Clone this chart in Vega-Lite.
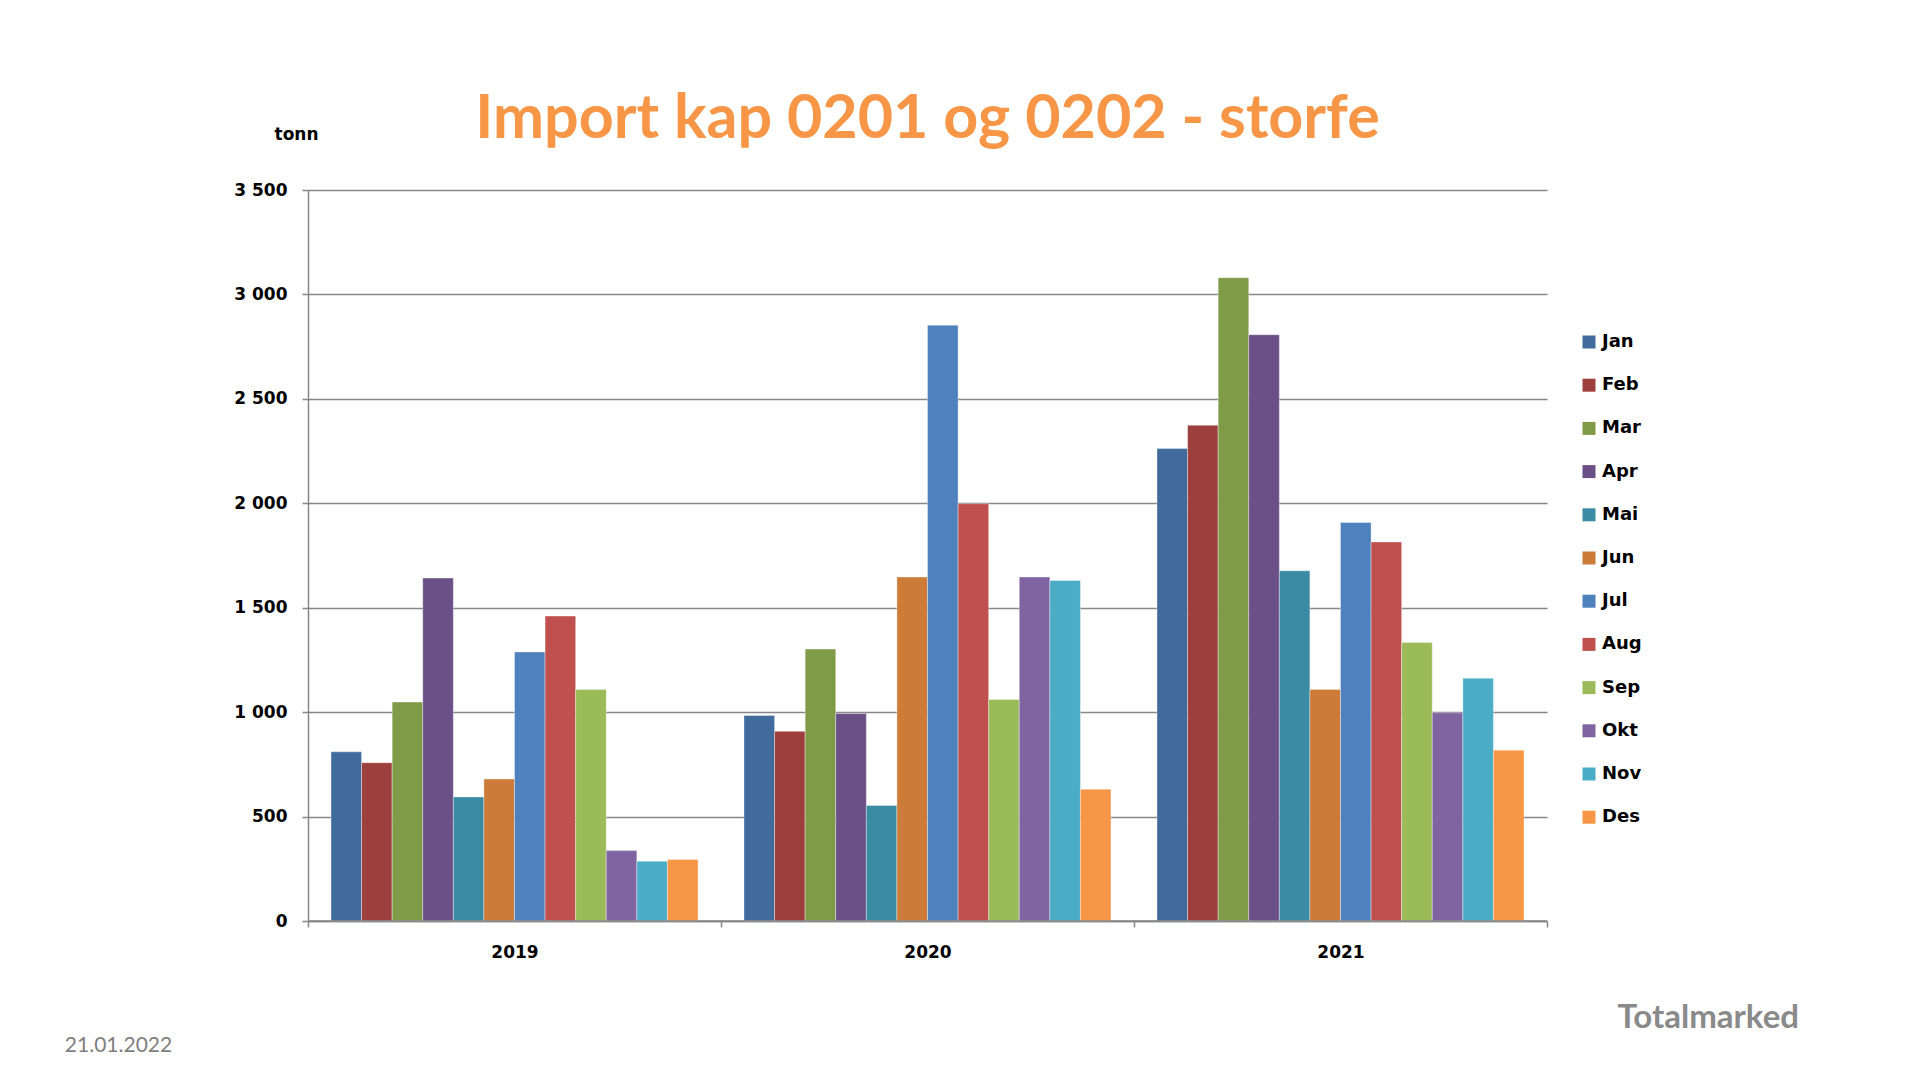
{
  "$schema": "https://vega.github.io/schema/vega-lite/v6.json",
  "width": 1239,
  "height": 731,
  "autosize": {"type": "none"},
  "padding": {"left": 308, "top": 190, "right": 363, "bottom": 162},
  "background": "white",
  "view": {"stroke": null},
  "title": {
    "text": "Import kap 0201 og 0202 - storfe",
    "color": "#F79646",
    "font": "Lato",
    "fontSize": 61,
    "fontWeight": "bold",
    "anchor": "middle",
    "baseline": "alphabetic",
    "offset": -74
  },
  "layer": [
    {
      "data": {
        "values": [
          {"year": "2019", "month": "Jan", "tonn": 810},
          {"year": "2019", "month": "Feb", "tonn": 758},
          {"year": "2019", "month": "Mar", "tonn": 1048},
          {"year": "2019", "month": "Apr", "tonn": 1642},
          {"year": "2019", "month": "Mai", "tonn": 594},
          {"year": "2019", "month": "Jun", "tonn": 680},
          {"year": "2019", "month": "Jul", "tonn": 1288},
          {"year": "2019", "month": "Aug", "tonn": 1460},
          {"year": "2019", "month": "Sep", "tonn": 1108},
          {"year": "2019", "month": "Okt", "tonn": 337},
          {"year": "2019", "month": "Nov", "tonn": 286},
          {"year": "2019", "month": "Des", "tonn": 294},
          {"year": "2020", "month": "Jan", "tonn": 984},
          {"year": "2020", "month": "Feb", "tonn": 908},
          {"year": "2020", "month": "Mar", "tonn": 1302},
          {"year": "2020", "month": "Apr", "tonn": 994},
          {"year": "2020", "month": "Mai", "tonn": 553},
          {"year": "2020", "month": "Jun", "tonn": 1647},
          {"year": "2020", "month": "Jul", "tonn": 2853},
          {"year": "2020", "month": "Aug", "tonn": 1998},
          {"year": "2020", "month": "Sep", "tonn": 1061},
          {"year": "2020", "month": "Okt", "tonn": 1647},
          {"year": "2020", "month": "Nov", "tonn": 1630},
          {"year": "2020", "month": "Des", "tonn": 631},
          {"year": "2021", "month": "Jan", "tonn": 2262},
          {"year": "2021", "month": "Feb", "tonn": 2374},
          {"year": "2021", "month": "Mar", "tonn": 3080},
          {"year": "2021", "month": "Apr", "tonn": 2807},
          {"year": "2021", "month": "Mai", "tonn": 1677},
          {"year": "2021", "month": "Jun", "tonn": 1109},
          {"year": "2021", "month": "Jul", "tonn": 1908},
          {"year": "2021", "month": "Aug", "tonn": 1815},
          {"year": "2021", "month": "Sep", "tonn": 1333},
          {"year": "2021", "month": "Okt", "tonn": 997},
          {"year": "2021", "month": "Nov", "tonn": 1162},
          {"year": "2021", "month": "Des", "tonn": 818}
        ]
      },
      "mark": {"type": "bar", "stroke": "white", "strokeWidth": 0.6, "strokeOpacity": 0.6},
      "encoding": {
        "x": {
          "field": "year",
          "type": "nominal",
          "scale": {"paddingInner": 0, "paddingOuter": 0},
          "axis": {
            "labelAngle": 0,
            "labelFont": "DejaVu Sans",
            "labelFontWeight": "bold",
            "labelFontSize": 17,
            "labelColor": "black",
            "labelPadding": 17,
            "tickBand": "extent",
            "tickSize": 6,
            "tickColor": "#878787",
            "tickWidth": 1.5,
            "domainColor": "#878787",
            "domainWidth": 1.5,
            "grid": false,
            "title": "21.01.2022",
            "titleX": -190,
            "titleY": 124,
            "titleAlign": "center",
            "titleBaseline": "middle",
            "titleFont": "Lato",
            "titleFontSize": 21,
            "titleFontWeight": "normal",
            "titleColor": "#7f7f7f"
          }
        },
        "xOffset": {
          "field": "month",
          "type": "nominal",
          "sort": ["Jan", "Feb", "Mar", "Apr", "Mai", "Jun", "Jul", "Aug", "Sep", "Okt", "Nov", "Des"],
          "scale": {"paddingInner": 0, "paddingOuter": 0.752}
        },
        "y": {
          "field": "tonn",
          "type": "quantitative",
          "scale": {"domain": [0, 3500]},
          "axis": {
            "values": [0, 500, 1000, 1500, 2000, 2500, 3000, 3500],
            "labelExpr": "replace(format(datum.value, ','), ',', ' ')",
            "labelFont": "DejaVu Sans",
            "labelFontWeight": "bold",
            "labelFontSize": 17,
            "labelColor": "black",
            "labelPadding": 15,
            "tickSize": 6,
            "tickColor": "#878787",
            "tickWidth": 1.5,
            "domainColor": "#878787",
            "domainWidth": 1.5,
            "gridColor": "#878787",
            "gridWidth": 1.5,
            "title": "tonn",
            "titleAngle": 0,
            "titleX": -12,
            "titleY": -56,
            "titleAlign": "center",
            "titleBaseline": "middle",
            "titleFont": "DejaVu Sans",
            "titleFontSize": 17,
            "titleFontWeight": "bold",
            "titleColor": "black"
          }
        },
        "color": {
          "field": "month",
          "type": "nominal",
          "sort": ["Jan", "Feb", "Mar", "Apr", "Mai", "Jun", "Jul", "Aug", "Sep", "Okt", "Nov", "Des"],
          "scale": {
            "domain": ["Jan", "Feb", "Mar", "Apr", "Mai", "Jun", "Jul", "Aug", "Sep", "Okt", "Nov", "Des"],
            "range": ["#416B9C", "#9D403D", "#809B48", "#6A5086", "#3C8BA4", "#CC7B38", "#4F81BD", "#C0504D", "#9BBB59", "#8064A2", "#4BACC6", "#F79646"]
          },
          "legend": {
            "orient": "none",
            "legendX": 1272,
            "legendY": 143,
            "title": null,
            "padding": 0,
            "symbolType": "square",
            "symbolSize": 169,
            "symbolStrokeWidth": 0,
            "labelFont": "DejaVu Sans",
            "labelFontWeight": "bold",
            "labelFontSize": 18,
            "labelColor": "black",
            "labelOffset": 4,
            "rowPadding": 25.2
          }
        }
      }
    },
    {
      "data": {"values": [{"baseline": 0}]},
      "mark": {"type": "rule", "color": "#878787", "strokeWidth": 1.5},
      "encoding": {
        "y": {
          "field": "baseline",
          "type": "quantitative",
          "scale": {"domain": [0, 3500]},
          "axis": {
            "orient": "right",
            "domain": false,
            "ticks": false,
            "labels": false,
            "grid": false,
            "title": "Totalmarked",
            "titleAngle": 0,
            "titleX": 70,
            "titleY": 827,
            "titleAlign": "left",
            "titleBaseline": "middle",
            "titleFont": "Lato",
            "titleFontSize": 33,
            "titleFontWeight": "bold",
            "titleColor": "#8a8a8a"
          }
        }
      }
    }
  ],
  "resolve": {"scale": {"y": "independent"}, "axis": {"y": "independent"}}
}
